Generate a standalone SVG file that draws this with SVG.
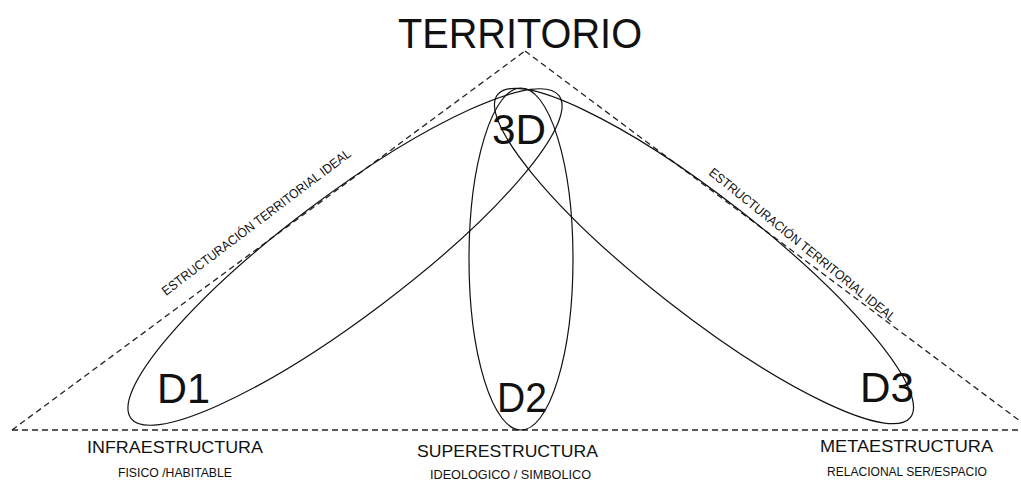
<svg xmlns="http://www.w3.org/2000/svg" width="1021" height="482" viewBox="0 0 1021 482">
<style>
.dash{fill:none;stroke:#222;stroke-width:1.3;stroke-dasharray:6 4}
.ell{fill:none;stroke:#111;stroke-width:1.2}
text{font-family:"Liberation Sans",Arial,sans-serif;fill:#111}
.big{font-size:43px}
.lab{font-size:16.5px}
.sub{font-size:12px}
.diag{font-size:13px}
</style>
<rect width="1021" height="482" fill="#fff"/>
<g id="connectors">
<line class="dash" x1="12" y1="430" x2="1021" y2="430"/>
<line class="dash" x1="12" y1="430" x2="525" y2="51"/>
<line class="dash" x1="525" y1="51" x2="1032" y2="430"/>
</g>
<g id="D1">
<ellipse class="ell" cx="345" cy="257" rx="268" ry="60" transform="rotate(-37 345 257)"/>
<text class="big" x="157" y="403" textLength="53" lengthAdjust="spacingAndGlyphs">D1</text>
</g>
<g id="D2">
<ellipse class="ell" cx="521" cy="259" rx="52" ry="171"/>
<text class="big" x="497" y="412" textLength="50" lengthAdjust="spacingAndGlyphs">D2</text>
</g>
<g id="D3">
<ellipse class="ell" cx="704" cy="256" rx="262" ry="58" transform="rotate(38 704 256)"/>
<text class="big" x="860" y="402" textLength="54" lengthAdjust="spacingAndGlyphs">D3</text>
</g>
<g id="title">
<text class="big" x="398" y="48" textLength="244" lengthAdjust="spacingAndGlyphs">TERRITORIO</text>
<text class="big" x="492" y="144" textLength="54" lengthAdjust="spacingAndGlyphs">3D</text>
</g>
<g id="diag-left">
<text class="diag" transform="translate(166 296) rotate(-37.1)" textLength="233" lengthAdjust="spacingAndGlyphs">ESTRUCTURACIÓN TERRITORIAL IDEAL</text>
</g>
<g id="diag-right">
<text class="diag" transform="translate(708 174) rotate(39)" textLength="236" lengthAdjust="spacingAndGlyphs">ESTRUCTURACIÓN TERRITORIAL IDEAL</text>
</g>
<g id="infra">
<text class="lab" x="87" y="453" textLength="176" lengthAdjust="spacingAndGlyphs">INFRAESTRUCTURA</text>
<text class="sub" x="118" y="477" textLength="114" lengthAdjust="spacingAndGlyphs">FISICO /HABITABLE</text>
</g>
<g id="super">
<text class="lab" x="417" y="457" textLength="181" lengthAdjust="spacingAndGlyphs">SUPERESTRUCTURA</text>
<text class="sub" x="430" y="479" textLength="161" lengthAdjust="spacingAndGlyphs">IDEOLOGICO / SIMBOLICO</text>
</g>
<g id="meta">
<text class="lab" x="820" y="452" textLength="173" lengthAdjust="spacingAndGlyphs">METAESTRUCTURA</text>
<text class="sub" x="827" y="476" textLength="160" lengthAdjust="spacingAndGlyphs">RELACIONAL SER/ESPACIO</text>
</g>
</svg>
